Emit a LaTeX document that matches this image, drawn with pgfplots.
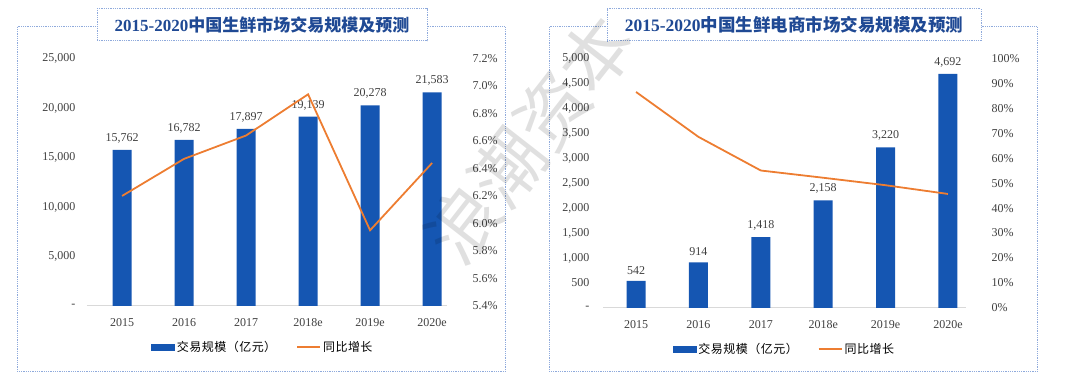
\documentclass[border=0pt]{standalone}
\usepackage{pgfplots}
\pgfplotsset{compat=1.18}
\usepackage{fontspec}
\setmainfont{Liberation Serif}
\newfontfamily\cjk{Noto Sans CJK SC}
\newfontfamily\cjkleg{Noto Sans CJK SC}[LetterSpace=4]
\definecolor{barblue}{RGB}{21,86,178}
\definecolor{lineorange}{RGB}{237,125,49}
\definecolor{titleblue}{RGB}{31,73,148}
\definecolor{bordercol}{RGB}{143,170,220}
\definecolor{axisgray}{RGB}{217,217,217}
\definecolor{textgray}{RGB}{64,64,64}
\pgfplotsset{
  basestyle/.style={
    anchor=south west, scale only axis, clip=false,
    major tick length=0pt,
    scaled y ticks=false,
    tick label style={font=\fontsize{12}{14}\selectfont, text=textgray},
    /pgf/number format/assume math mode=true,
    /pgf/number format/1000 sep={,},
  },
  primstyle/.style={
    basestyle,
    axis x line*=bottom, axis y line*=left,
    y axis line style={draw=none},
    x axis line style={draw=axisgray, line width=0.8pt},
    xtick={0,1,2,3,4,5}, xticklabels={2015,2016,2017,2018e,2019e,2020e},
    xticklabel style={yshift=-9pt},
    nodes near coords,
    every node near coord/.append style={font=\fontsize{12}{14}\selectfont, text=textgray, yshift=3pt},
    ybar, bar width=19pt,
  },
  secstyle/.style={
    basestyle,
    axis x line=none, axis y line*=right,
    y axis line style={draw=none},
    yticklabel style={xshift=22pt},
    legend style={draw=none, at={(0.5,0)}, anchor=center, yshift=-41pt,
      legend columns=2, font=\cjkleg\fontsize{12}{14}\selectfont,
      /tikz/every even column/.append style={column sep=18pt}},
    legend cell align=left,
  },
}
\begin{document}
\begin{tikzpicture}[x=1pt,y=1pt]
\path (0,0) rectangle (1080,376);
% panel borders
\draw[bordercol, densely dotted, line width=0.8pt] (17,7) rectangle (505,352);
\draw[bordercol, densely dotted, line width=0.8pt] (549,7) rectangle (1037,352);
% title boxes
\node[draw=bordercol, densely dotted, line width=0.8pt, fill=white, minimum width=330pt, minimum height=32pt, inner sep=0pt, text=titleblue] at (262,354)
  {\fontsize{17}{20}\selectfont\bfseries 2015-2020{\cjk\bfseries 中国生鲜市场交易规模及预测}};
\node[draw=bordercol, densely dotted, line width=0.8pt, fill=white, minimum width=374pt, minimum height=32pt, inner sep=0pt, text=titleblue] at (794,354)
  {\fontsize{17.5}{20}\selectfont\bfseries 2015-2020{\cjk\bfseries 中国生鲜电商市场交易规模及预测}};

% ---------------- left chart ----------------
\begin{axis}[primstyle,
  at={(87pt,73pt)}, width=360pt, height=247.3pt,
  xmin=-0.565, xmax=5.24, ymin=0, ymax=25000,
  ytick={0,5000,10000,15000,20000,25000},
  yticklabels={{-\hspace{6pt}},{5,000},{10,000},{15,000},{20,000},{25,000}},
  yticklabel style={xshift=-8pt},
]
\addplot[fill=barblue, draw=none] coordinates {(0,15762) (1,16782) (2,17897) (3,19139) (4,20278) (5,21583)};
\end{axis}
\begin{axis}[secstyle,
  at={(87pt,73pt)}, width=360pt, height=247.3pt,
  xmin=-0.565, xmax=5.24, ymin=5.4, ymax=7.2,
  ytick={5.4,5.6,5.8,6.0,6.2,6.4,6.6,6.8,7.0,7.2},
  yticklabels={5.4\%,5.6\%,5.8\%,6.0\%,6.2\%,6.4\%,6.6\%,6.8\%,7.0\%,7.2\%},
  legend style={xshift=-4pt},
]
\addlegendimage{legend image code/.code={\fill[barblue] (0pt,-3pt) rectangle (23pt,3pt);}}
\addlegendentry{交易规模（亿元）}
\addplot[lineorange, line width=1.8pt, mark=none,
  legend image code/.code={\draw[lineorange, line width=1.8pt] (0pt,0pt) -- (23pt,0pt);}]
  coordinates {(0,6.20) (1,6.47) (2,6.64) (3,6.94) (4,5.95) (5,6.44)};
\addlegendentry{同比增长}
\end{axis}

% ---------------- right chart ----------------
\begin{axis}[primstyle,
  at={(603pt,71pt)}, width=363pt, height=249.3pt,
  xmin=-0.53, xmax=5.29, ymin=0, ymax=5000,
  ytick={0,500,1000,1500,2000,2500,3000,3500,4000,4500,5000},
  yticklabels={{-\hspace{6pt}},{500},{1,000},{1,500},{2,000},{2,500},{3,000},{3,500},{4,000},{4,500},{5,000}},
  yticklabel style={xshift=-10pt},
]
\addplot[fill=barblue, draw=none] coordinates {(0,542) (1,914) (2,1418) (3,2158) (4,3220) (5,4692)};
\end{axis}
\begin{axis}[secstyle,
  at={(603pt,71pt)}, width=363pt, height=249.3pt,
  xmin=-0.53, xmax=5.29, ymin=0, ymax=100,
  ytick={0,10,20,30,40,50,60,70,80,90,100},
  yticklabels={0\%,10\%,20\%,30\%,40\%,50\%,60\%,70\%,80\%,90\%,100\%},
]
\addlegendimage{legend image code/.code={\fill[barblue] (0pt,-3pt) rectangle (23pt,3pt);}}
\addlegendentry{交易规模（亿元）}
\addplot[lineorange, line width=1.8pt, mark=none,
  legend image code/.code={\draw[lineorange, line width=1.8pt] (0pt,0pt) -- (23pt,0pt);}]
  coordinates {(0,86.6) (1,68.6) (2,55.1) (3,52.2) (4,49.2) (5,45.7)};
\addlegendentry{同比增长}
\end{axis}

% watermark
\node[rotate=52, text=black, opacity=0.12, font=\cjk\fontsize{72}{80}\selectfont] at (530,240) {浪潮资本};
\end{tikzpicture}
\end{document}
